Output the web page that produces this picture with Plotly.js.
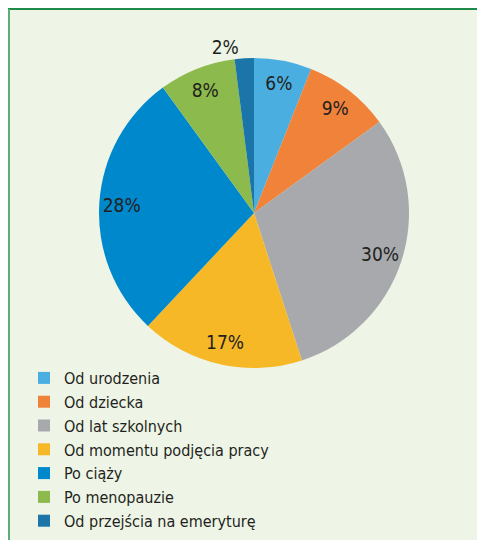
<!DOCTYPE html>
<html><head><meta charset="utf-8">
<script src="https://cdn.plot.ly/plotly-3.0.1.min.js"></script>
<style>html,body{margin:0;padding:0;background:#fff;}#chart{width:477px;height:540px;}</style>
</head><body><div id="chart"></div>
<script>
const categories = ["Od urodzenia","Od dziecka","Od lat szkolnych","Od momentu podjęcia pracy","Po ciąży","Po menopauzie","Od przejścia na emeryturę"];
const values = [6, 9, 30, 17, 28, 8, 2];
const colors = ["#4aafe0","#f0823a","#a7a9ac","#f6b826","#0088cc","#8cba4c","#1b75a9"];
const textPos = ["inside","inside","inside","inside","inside","inside","outside"];
const FONT = '"Liberation Sans Narrow", "DejaVu Sans Condensed", Arial, sans-serif';

const W = 477, H = 540;
const cx = 254, cy = 213, r = 155;
const dom = {x: [(cx - r) / W, (cx + r) / W], y: [1 - (cy + r) / H, 1 - (cy - r) / H]};

const slices = {
  type: 'pie',
  labels: categories,
  values: values,
  sort: false,
  direction: 'clockwise',
  rotation: 0,
  marker: {colors: colors, line: {width: 0}},
  textinfo: 'none',
  hoverinfo: 'none',
  domain: dom
};

const labelsRing = {
  type: 'pie',
  labels: categories,
  values: values,
  sort: false,
  direction: 'clockwise',
  rotation: 0,
  hole: 0.71,
  showlegend: false,
  automargin: true,
  marker: {colors: colors.map(() => 'rgba(0,0,0,0)'), line: {width: 0}},
  texttemplate: '%{value}%',
  textposition: textPos,
  insidetextorientation: 'horizontal',
  textfont: {family: FONT, size: 19, color: '#231f20'},
  hoverinfo: 'none',
  domain: dom
};

const layout = {
  width: W, height: H,
  margin: {l: 0, r: 0, t: 0, b: 0},
  paper_bgcolor: '#eef5e6',
  font: {family: FONT, color: '#231f20'},
  showlegend: true,
  legend: {
    x: 24 / W, xanchor: 'left',
    y: 1 - 361 / H, yanchor: 'top',
    bgcolor: 'rgba(0,0,0,0)',
    font: {family: FONT, size: 16, color: '#231f20'},
    traceorder: 'normal'
  },
  shapes: [
    {type: 'rect', xref: 'paper', yref: 'paper', x0: 0, x1: 1, y0: 1 - 8 / H, y1: 1, fillcolor: '#ffffff', line: {width: 0}, layer: 'above'},
    {type: 'rect', xref: 'paper', yref: 'paper', x0: 0, x1: 8 / W, y0: 0, y1: 1, fillcolor: '#ffffff', line: {width: 0}, layer: 'above'},
    {type: 'line', xref: 'paper', yref: 'paper', x0: 8 / W, x1: 1, y0: 1 - 9 / H, y1: 1 - 9 / H, line: {color: '#1e8a4a', width: 2}, layer: 'above'},
    {type: 'line', xref: 'paper', yref: 'paper', x0: 9 / W, x1: 9 / W, y0: 0, y1: 1 - 9 / H, line: {color: '#5aaf78', width: 2}, layer: 'above'}
  ]
};

Plotly.newPlot('chart', [slices, labelsRing], layout, {displayModeBar: false, staticPlot: true});
</script></body></html>
